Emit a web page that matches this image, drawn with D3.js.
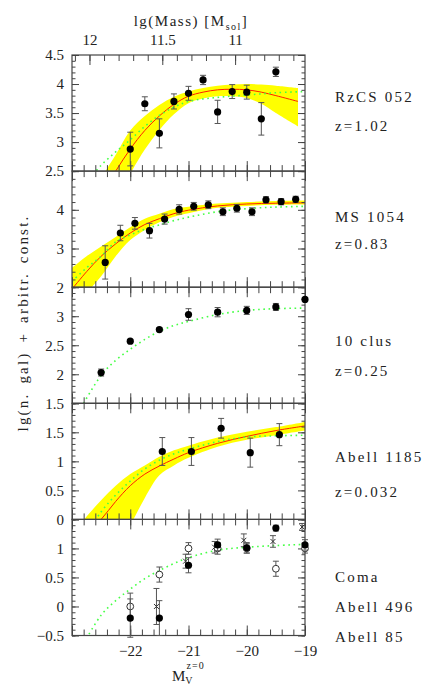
<!DOCTYPE html>
<html>
<head>
<meta charset="utf-8">
<script src="https://cdn.jsdelivr.net/npm/d3@7"></script>
<style>
body { margin: 0; background: #fff; }
text { font-family: "Liberation Serif", serif; fill: #222; }
</style>
</head>
<body>
<script>
// magnitude range of the x axis and the matching mass range on top
var magDomain = [-23, -19];
var massDomain = [12.12, 10.52];

// RzCS 052, z=1.02
var rzcsMag = [-22, -21.75, -21.5, -21.25, -21, -20.75, -20.5, -20.25, -20, -19.75, -19.5];
var rzcsVal = [2.88, 3.66, 3.15, 3.7, 3.84, 4.07, 3.52, 3.87, 3.86, 3.4, 4.21];
var rzcsErr = [0.29, 0.12, 0.25, 0.13, 0.12, 0.08, 0.2, 0.12, 0.12, 0.28, 0.08];
var rzcsFitMag = [-22.5, -22.25, -22, -21.75, -21.5, -21.25, -21, -20.75, -20.5, -20.25, -20, -19.75, -19.5, -19.12];
var rzcsFit = [2.1, 2.5, 2.88, 3.2, 3.45, 3.65, 3.79, 3.86, 3.9, 3.91, 3.9, 3.86, 3.8, 3.7];
var rzcsHi = [2.38, 2.78, 3.2, 3.45, 3.64, 3.78, 3.87, 3.93, 3.97, 3.99, 4.0, 3.99, 3.97, 3.93];
var rzcsLo = [1.6, 1.95, 2.45, 2.87, 3.21, 3.48, 3.67, 3.75, 3.79, 3.79, 3.76, 3.66, 3.5, 3.27];
var rzcsRefMag = [-22.75, -22.5, -22.25, -22, -21.75, -21.5, -21.25, -21, -20.5, -20, -19.5, -19];
var rzcsRef = [2.3, 2.6, 2.83, 3.04, 3.27, 3.46, 3.6, 3.7, 3.77, 3.81, 3.85, 3.87];

// MS 1054, z=0.83
var msMag = [-22.43, -22.17, -21.92, -21.67, -21.41, -21.16, -20.91, -20.66, -20.41, -20.17, -19.91, -19.67, -19.41, -19.16];
var msVal = [2.64, 3.4, 3.65, 3.46, 3.76, 4.01, 4.09, 4.13, 3.95, 4.04, 3.95, 4.26, 4.21, 4.27];
var msErr = [0.43, 0.2, 0.15, 0.19, 0.13, 0.12, 0.1, 0.1, 0.1, 0.1, 0.1, 0.08, 0.08, 0.08];
var msFitMag = [-23, -22.75, -22.5, -22.25, -22, -21.75, -21.5, -21.25, -21, -20.5, -20, -19.5, -19];
var msFit = [1.95, 2.4, 2.8, 3.12, 3.4, 3.62, 3.77, 3.9, 3.99, 4.1, 4.15, 4.17, 4.18];
var msHi = [2.5, 2.8, 3.05, 3.3, 3.55, 3.77, 3.9, 4.02, 4.08, 4.16, 4.2, 4.23, 4.24];
var msLo = [1.4, 1.85, 2.28, 2.8, 3.22, 3.48, 3.68, 3.82, 3.91, 4.05, 4.1, 4.13, 4.14];
var msRef = [2.15, 2.5, 2.8, 3.17, 3.35, 3.5, 3.61, 3.72, 3.81, 3.95, 4.03, 4.07, 4.09];

// 10 clusters, z=0.25
var tenMag = [-22.5, -22, -21.5, -21, -20.5, -20, -19.5, -19];
var tenVal = [2.03, 2.57, 2.77, 3.03, 3.07, 3.1, 3.16, 3.29];
var tenErr = [0.06, 0.02, 0.03, 0.1, 0.08, 0.07, 0.06, 0];
var tenRefMag = [-22.8, -22.5, -22.25, -22, -21.75, -21.5, -21.25, -21, -20.5, -20, -19.5, -19];
var tenRef = [1.5, 1.98, 2.24, 2.43, 2.6, 2.74, 2.84, 2.91, 3.03, 3.1, 3.13, 3.14];

// Abell 1185, z=0.032
var a1185Mag = [-21.45, -20.95, -20.44, -19.94, -19.44];
var a1185Val = [1.17, 1.17, 1.57, 1.15, 1.46];
var a1185Err = [0.24, 0.24, 0.17, 0.25, 0.19];
var a1185FitMag = [-23, -22.75, -22.5, -22.25, -22, -21.75, -21.5, -21.25, -21, -20.5, -20, -19.5, -19];
var a1185Fit = [-0.5, -0.25, 0.0, 0.31, 0.58, 0.78, 0.92, 1.04, 1.15, 1.31, 1.43, 1.53, 1.61];
var a1185Hi = [-0.25, 0.05, 0.33, 0.58, 0.78, 0.93, 1.08, 1.19, 1.27, 1.41, 1.51, 1.59, 1.68];
var a1185Lo = [-2, -1.5, -1.0, -0.5, -0.1, 0.37, 0.76, 0.93, 1.06, 1.25, 1.37, 1.45, 1.53];
var a1185RefMag = [-22.75, -22.5, -22.25, -22, -21.75, -21.5, -21.25, -21, -20.5, -20, -19.5, -19];
var a1185Ref = [-0.25, 0.13, 0.42, 0.66, 0.87, 1.02, 1.13, 1.21, 1.34, 1.42, 1.44, 1.45];

// nearby clusters: Coma, Abell 496, Abell 85
var comaMag = [-22, -21.5, -21, -20.5, -20, -19.5, -19];
var comaVal = [-0.2, -0.2, 0.71, 1.06, 1.01, 1.35, 1.06];
var comaErr = [0.33, 0.3, 0.13, 0.1, 0.09, 0.05, 0.09];
var a496Mag = [-22, -21.5, -21, -20.5, -20, -19.5, -19];
var a496Val = [0.0, 0.55, 1.0, 1.0, 1.0, 0.65, 1.0];
var a496Err = [0.23, 0.13, 0.1, 0.1, 0.08, 0.13, 0.08];
var a85Mag = [-21.55, -21.05, -20.55, -20.05, -19.55, -19.05];
var a85Val = [0.0, 0.78, 1.02, 1.14, 1.12, 1.37];
var a85Err = [0.31, 0.12, 0.1, 0.11, 0.1, 0.06];
var nearRefMag = [-22.75, -22.5, -22.25, -22, -21.75, -21.5, -21.25, -21, -20.5, -20, -19.5, -19];
var nearRef = [-0.55, -0.15, 0.1, 0.3, 0.48, 0.62, 0.74, 0.84, 0.97, 1.02, 1.05, 1.07];

var svgWidth = 436,
	svgHeight = 685,
	plotLeft = 72,
	plotRight = 305,
	plotTop = 55,
	ph = 116.1;

function zip(m, v, e) {
	return m.map(function (d, i) {
		return { m: d, v: v[i], e: e ? e[i] : 0 };
	});
}

function band(m, lo, hi) {
	return m.map(function (d, i) {
		return { m: d, lo: lo[i], hi: hi[i] };
	});
}

var panels = [{
	yDomain: [2.5, 4.5], major: 0.5, minor: 0.1,
	sets: [{ kind: "filled", data: zip(rzcsMag, rzcsVal, rzcsErr) }],
	band: band(rzcsFitMag, rzcsLo, rzcsHi),
	fit: zip(rzcsFitMag, rzcsFit),
	ref: zip(rzcsRefMag, rzcsRef),
	labels: [["RzCS 052", 101.5], ["z=1.02", 130.5]]
}, {
	yDomain: [2, 5], major: 1, minor: 0.2,
	sets: [{ kind: "filled", data: zip(msMag, msVal, msErr) }],
	band: band(msFitMag, msLo, msHi),
	fit: zip(msFitMag, msFit),
	ref: zip(msFitMag, msRef),
	labels: [["MS 1054", 221.5], ["z=0.83", 249]]
}, {
	yDomain: [1.5, 3.5], major: 0.5, minor: 0.1,
	sets: [{ kind: "filled", data: zip(tenMag, tenVal, tenErr) }],
	ref: zip(tenRefMag, tenRef),
	labels: [["10 clus", 346], ["z=0.25", 375.5]]
}, {
	yDomain: [0, 2], major: 0.5, minor: 0.1,
	sets: [{ kind: "filled", data: zip(a1185Mag, a1185Val, a1185Err) }],
	band: band(a1185FitMag, a1185Lo, a1185Hi),
	fit: zip(a1185FitMag, a1185Fit),
	ref: zip(a1185RefMag, a1185Ref),
	labels: [["Abell 1185", 462], ["z=0.032", 496.5]]
}, {
	yDomain: [-0.5, 1.5], major: 0.5, minor: 0.1,
	sets: [
		{ kind: "cross", data: zip(a85Mag, a85Val, a85Err) },
		{ kind: "open", data: zip(a496Mag, a496Val, a496Err) },
		{ kind: "filled", data: zip(comaMag, comaVal, comaErr) }
	],
	ref: zip(nearRefMag, nearRef),
	labels: [["Coma", 581.5], ["Abell 496", 611.5], ["Abell 85", 641.5]]
}];

var svg = d3.select("body").append("svg")
	.attr("width", svgWidth)
	.attr("height", svgHeight);

var x = d3.scaleLinear().domain(magDomain).range([plotLeft, plotRight]);
var xm = d3.scaleLinear().domain(massDomain).range([plotLeft, plotRight]);

var fmt = d3.format("~g");

function range(a, b, s) {
	var out = [];
	for (var k = Math.ceil(a / s - 1e-6); k * s <= b + 1e-6; k++) out.push(+(k * s).toFixed(4));
	return out;
}

function axisStyle(sel) {
	sel.select(".domain").remove();
	sel.selectAll(".tick line").attr("stroke", "#444").attr("stroke-width", 1);
	sel.selectAll(".tick text")
		.style("font-size", "15px")
		.style("font-family", "'Liberation Serif', serif")
		.attr("fill", "#222");
}

panels.forEach(function (p, i) {
	var y0 = plotTop + i * ph,
		y1 = plotTop + (i + 1) * ph;
	var y = d3.scaleLinear().domain(p.yDomain).range([y1, y0]);
	var g = svg.append("g");

	g.append("clipPath").attr("id", "clip" + i)
		.append("rect")
		.attr("x", plotLeft).attr("y", y0)
		.attr("width", plotRight - plotLeft).attr("height", y1 - y0);

	var curves = g.append("g").attr("clip-path", "url(#clip" + i + ")");

	if (p.band) {
		curves.append("path")
			.datum(p.band)
			.attr("fill", "#ffff00")
			.attr("d", d3.area()
				.x(function (d) { return x(d.m); })
				.y0(function (d) { return y(d.lo); })
				.y1(function (d) { return y(d.hi); })
				.curve(d3.curveCatmullRom));
	}
	if (p.fit) {
		curves.append("path")
			.datum(p.fit)
			.attr("fill", "none")
			.attr("stroke", "#ff2000")
			.attr("stroke-width", 1)
			.attr("d", d3.line()
				.x(function (d) { return x(d.m); })
				.y(function (d) { return y(d.v); })
				.curve(d3.curveCatmullRom));
	}
	curves.append("path")
		.datum(p.ref)
		.attr("fill", "none")
		.attr("stroke", "#44ff44")
		.attr("stroke-width", 1.6)
		.attr("stroke-dasharray", "1.6,3.6")
		.attr("d", d3.line()
			.x(function (d) { return x(d.m); })
			.y(function (d) { return y(d.v); })
			.curve(d3.curveCatmullRom));

	// y axes, left with labels and right mirrored
	var majors = range(p.yDomain[0], p.yDomain[1], p.major),
		minors = range(p.yDomain[0], p.yDomain[1], p.minor);
	var top0 = p.yDomain[1];

	g.append("g").attr("transform", "translate(" + plotLeft + ",0)")
		.call(d3.axisLeft(y).tickValues(minors).tickSize(-3.5).tickFormat(""))
		.call(axisStyle);
	g.append("g").attr("transform", "translate(" + plotLeft + ",0)")
		.call(d3.axisLeft(y).tickValues(majors).tickSize(-7).tickPadding(8)
			.tickFormat(function (d) { return (i > 0 && d === top0) ? "" : fmt(d); }))
		.call(axisStyle);
	g.append("g").attr("transform", "translate(" + plotRight + ",0)")
		.call(d3.axisRight(y).tickValues(minors).tickSize(-3.5).tickFormat(""))
		.call(axisStyle);
	g.append("g").attr("transform", "translate(" + plotRight + ",0)")
		.call(d3.axisRight(y).tickValues(majors).tickSize(-7).tickFormat(""))
		.call(axisStyle);

	// x axes
	var xMaj = range(magDomain[0], magDomain[1], 1),
		xMin = range(magDomain[0], magDomain[1], 0.2);
	g.append("g").attr("transform", "translate(0," + y1 + ")")
		.call(d3.axisBottom(x).tickValues(xMin).tickSize(-6).tickFormat(""))
		.call(axisStyle);
	g.append("g").attr("transform", "translate(0," + y1 + ")")
		.call(d3.axisBottom(x).tickValues(xMaj).tickSize(-10).tickPadding(10)
			.tickFormat(function (d) { return (i === panels.length - 1 && d > magDomain[0]) ? fmt(d) : ""; }))
		.call(axisStyle);
	if (i > 0) {
		g.append("g").attr("transform", "translate(0," + y0 + ")")
			.call(d3.axisTop(x).tickValues(xMin).tickSize(-6).tickFormat(""))
			.call(axisStyle);
		g.append("g").attr("transform", "translate(0," + y0 + ")")
			.call(d3.axisTop(x).tickValues(xMaj).tickSize(-10).tickFormat(""))
			.call(axisStyle);
	} else {
		// mass axis on top
		g.append("g").attr("transform", "translate(0," + y0 + ")")
			.call(d3.axisTop(xm).tickValues(range(massDomain[1], massDomain[0], 0.1)).tickSize(-6).tickFormat(""))
			.call(axisStyle);
		g.append("g").attr("transform", "translate(0," + y0 + ")")
			.call(d3.axisTop(xm).tickValues([12, 11.5, 11]).tickSize(-10).tickPadding(10).tickFormat(fmt))
			.call(axisStyle);
	}

	g.append("rect")
		.attr("x", plotLeft).attr("y", y0)
		.attr("width", plotRight - plotLeft).attr("height", y1 - y0)
		.attr("fill", "none")
		.attr("stroke", "#444")
		.attr("stroke-width", 1.2);

	// points with error bars
	p.sets.forEach(function (s) {
		var pt = g.append("g").selectAll("g")
			.data(s.data)
			.enter().append("g")
			.attr("transform", function (d) { return "translate(" + x(d.m) + ",0)"; });

		var eb = pt.filter(function (d) { return d.e > 0; });
		eb.append("line")
			.attr("y1", function (d) { return y(d.v - d.e); })
			.attr("y2", function (d) { return y(d.v + d.e); });
		eb.append("line")
			.attr("x1", -3).attr("x2", 3)
			.attr("y1", function (d) { return y(d.v - d.e); })
			.attr("y2", function (d) { return y(d.v - d.e); });
		eb.append("line")
			.attr("x1", -3).attr("x2", 3)
			.attr("y1", function (d) { return y(d.v + d.e); })
			.attr("y2", function (d) { return y(d.v + d.e); });
		eb.selectAll("line").attr("stroke", "#555").attr("stroke-width", 1);

		if (s.kind === "filled") {
			pt.append("circle")
				.attr("cy", function (d) { return y(d.v); })
				.attr("r", 3.6)
				.attr("fill", "#000");
		} else if (s.kind === "open") {
			pt.append("circle")
				.attr("cy", function (d) { return y(d.v); })
				.attr("r", 3.4)
				.attr("fill", "#fff")
				.attr("stroke", "#333")
				.attr("stroke-width", 1);
		} else {
			pt.append("path")
				.attr("d", function (d) {
					var c = y(d.v);
					return "M-2.5," + (c - 2.5) + "L2.5," + (c + 2.5) + "M-2.5," + (c + 2.5) + "L2.5," + (c - 2.5);
				})
				.attr("stroke", "#333")
				.attr("stroke-width", 1);
		}
	});

	g.selectAll(".plabel")
		.data(p.labels)
		.enter().append("text")
		.attr("class", "plabel")
		.attr("x", 335)
		.attr("y", function (d) { return d[1]; })
		.style("font-size", "15px")
		.style("letter-spacing", "2.2px")
		.text(function (d) { return d[0]; });
});

// axis titles
var tt = svg.append("text")
	.attr("x", 191)
	.attr("y", 26)
	.attr("text-anchor", "middle")
	.style("font-size", "15px")
	.style("letter-spacing", "1.5px");
tt.append("tspan").text("lg(Mass)  [M");
tt.append("tspan").attr("dy", 4).style("font-size", "10px").text("sol");
tt.append("tspan").attr("dy", -4).text("]");

svg.append("text")
	.attr("transform", "translate(28,323)rotate(-90)")
	.attr("text-anchor", "middle")
	.style("font-size", "15px")
	.style("letter-spacing", "2.2px")
	.style("word-spacing", "3px")
	.text("lg(n. gal) + arbitr. const.");

var bt = svg.append("text")
	.attr("x", 172)
	.attr("y", 681)
	.style("font-size", "15px");
bt.append("tspan").text("M");
bt.append("tspan").attr("dy", 3).style("font-size", "10px").text("V");
bt.append("tspan").attr("dx", -6).attr("dy", -15).style("font-size", "10px").style("letter-spacing", "1px").text("z=0");
</script>
</body>
</html>
